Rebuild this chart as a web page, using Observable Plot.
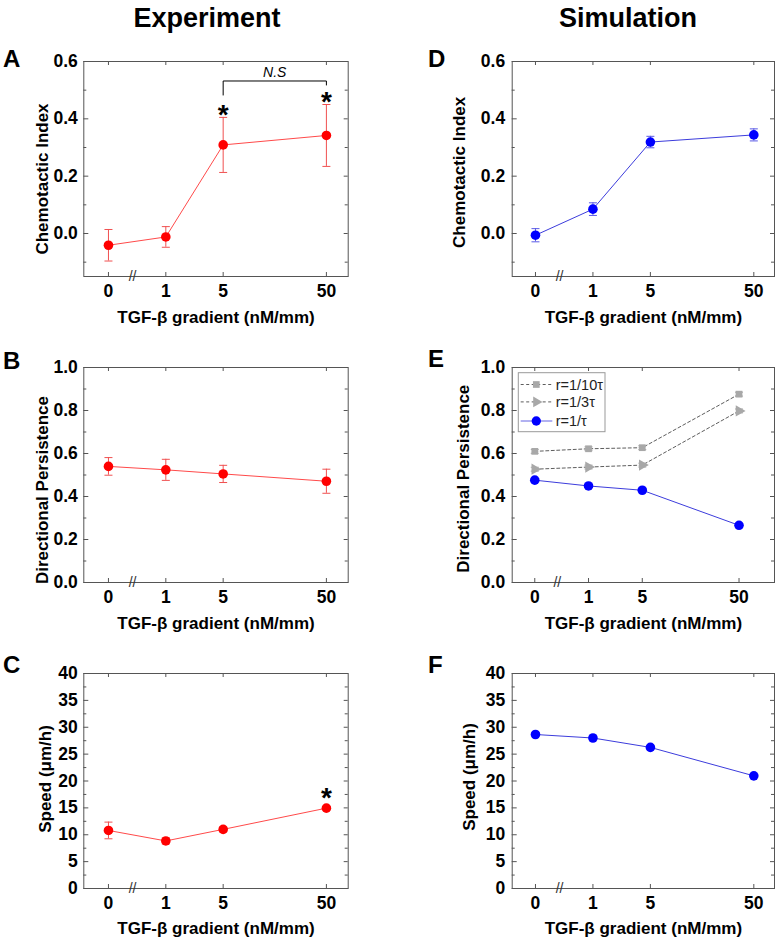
<!DOCTYPE html>
<html><head><meta charset="utf-8">
<script src="https://cdn.jsdelivr.net/npm/d3@7"></script>
<script src="https://cdn.jsdelivr.net/npm/@observablehq/plot@0.6"></script>
<style>
body{margin:0;background:#fff;overflow:hidden;}
#fig{position:relative;width:778px;height:940px;font-family:"Liberation Sans",Arial,sans-serif;overflow:hidden;}
</style></head><body><div id="fig"></div>
<script>
// ---------- data ----------
const gradients = ["0", "1", "5", "50"];
const columnTitles = ["Experiment", "Simulation"];
const panelLetters = ["A", "B", "C", "D", "E", "F"];
const xLabel = "TGF-\u03b2 gradient (nM/mm)";

const expChemoIndex = [-0.041, -0.012, 0.309, 0.342];
const expChemoErr   = [0.055, 0.036, 0.096, 0.108];
const expChemoSig   = ["", "", "*", "*"];
const nsGroups      = ["5", "5", "50", "50"];
const nsLevels      = [0.483, 0.532, 0.532, 0.518];
const nsLabel       = "N.S";

const expPersist    = [0.540, 0.524, 0.505, 0.471];
const expPersistErr = [0.041, 0.049, 0.040, 0.056];

const expSpeed      = [10.8, 8.85, 11.0, 14.95];
const expSpeedErr   = [1.55, 0.55, 0.45, 0.3];
const expSpeedSig   = ["", "", "", "*"];

const simChemoIndex = [-0.006, 0.085, 0.319, 0.344];
const simChemoErr   = [0.023, 0.022, 0.020, 0.021];

const simPersist10  = [0.610, 0.622, 0.627, 0.876];
const simPersist3   = [0.527, 0.537, 0.546, 0.798];
const simPersist1   = [0.476, 0.449, 0.429, 0.266];
const simPersistErr = [0.009, 0.009, 0.009, 0.009];
const legendLabels  = ["r=1/10\u03c4", "r=1/3\u03c4", "r=1/\u03c4"];

const simSpeed      = [28.65, 28.0, 26.25, 20.96];

// ---------- layout ----------
const xSlots = [0, 1, 2, 3.8];          // horizontal slot of each gradient category
const breakSlot = 0.42;
const W = 389, FH = 215, MT = 35, MB = 55;
const rowTop = [60.7, 366.7, 673.3];
const cols = [
  {svgLeft: 0, fl: 83.3, fr: 347.7},
  {svgLeft: 389, fl: 511.7, fr: 774}
];
const RED = "#ff0000", RED_LINE = "#ff4a4a", RED_ERR = "#f05050";
const BLUE = "#0000ff", BLUE_LINE = "#3c3cdc", BLUE_ERR = "#5a5ae6";
const GRAY = "#a8a8a8", AX = "#555";
const FONT = "Liberation Sans, Arial, sans-serif";
const TICK_FS = 17.5, LABEL_FS = 17;

const cap = {draw(ctx, size) { const r = Math.sqrt(size / Math.PI); ctx.moveTo(-r, 0); ctx.lineTo(r, 0); }};

function rows(values, errs, sig) {
  return gradients.map((g, i) => ({
    g, pos: xSlots[i], v: values[i],
    lo: errs ? values[i] - errs[i] : values[i],
    hi: errs ? values[i] + errs[i] : values[i],
    sig: sig ? sig[i] : ""
  }));
}

function series(data, {color, lineColor, errColor, symbol = "circle", r = 4.8, rotate = 0, dash = null, lineWidth = 1, err = true}) {
  const m = [
    Plot.line(data, {x: "pos", y: "v", stroke: lineColor, strokeWidth: lineWidth, strokeDasharray: dash})
  ];
  if (err) {
    m.push(Plot.ruleX(data, {x: "pos", y1: "lo", y2: "hi", stroke: errColor, strokeWidth: 1}));
    m.push(Plot.dot(data, {x: "pos", y: "hi", symbol: cap, r: 4, stroke: errColor, strokeWidth: 1, fill: "none"}));
    m.push(Plot.dot(data, {x: "pos", y: "lo", symbol: cap, r: 4, stroke: errColor, strokeWidth: 1, fill: "none"}));
  }
  m.push(Plot.dot(data, {x: "pos", y: "v", symbol, r, rotate, fill: color, stroke: "none"}));
  return m;
}

const fig = document.getElementById("fig");

function panel(o) {
  const col = cols[o.col];
  const fw = col.fr - col.fl;
  const mL = col.fl - col.svgLeft, mR = col.svgLeft + W - col.fr;
  const tickOpts = {stroke: AX, strokeWidth: 1};
  const svg = Plot.plot({
    width: W, height: MT + FH + MB,
    marginLeft: mL, marginRight: mR, marginTop: MT, marginBottom: MB,
    style: {fontFamily: FONT, background: "transparent", overflow: "visible", color: "#000"},
    x: {type: "linear", domain: o.xDomain},
    y: {type: "linear", domain: o.yDomain},
    marks: [
      Plot.tickY(o.yMajor, {y: d => d, ...tickOpts, insetRight: fw - 5}),
      Plot.tickY(o.yMinor, {y: d => d, ...tickOpts, insetRight: fw - 3}),
      Plot.tickY(o.yMajor, {y: d => d, ...tickOpts, insetLeft: fw - 4}),
      Plot.tickY(o.yMinor, {y: d => d, ...tickOpts, insetLeft: fw - 3}),
      Plot.tickX(xSlots, {x: d => d, ...tickOpts, insetTop: FH - 4}),
      Plot.tickX(xSlots, {x: d => d, ...tickOpts, insetBottom: FH - 4}),
      Plot.frame({stroke: AX, strokeWidth: 1}),
      Plot.axisY({ticks: o.yMajor, tickSize: 0, tickPadding: o.yPad ?? 6, tickFormat: o.yFormat, fontSize: TICK_FS, fontWeight: "bold", fill: "#000", label: null}),
      Plot.axisX({ticks: xSlots, tickSize: 0, tickPadding: 8, tickFormat: d => gradients[xSlots.indexOf(d)], fontSize: TICK_FS, fontWeight: "bold", fill: "#000", label: null}),
      Plot.text(["//"], {x: () => breakSlot, text: d => d, frameAnchor: "bottom", fontSize: 14, fill: "#333", lineAnchor: "middle"}),
      Plot.text([o.yLabel], {text: d => d, frameAnchor: "left", textAnchor: "middle", dx: -o.yLabelOff, dy: o.yLabelDy, rotate: -90, fontSize: LABEL_FS, fontWeight: "bold", fill: "#000"}),
      Plot.text([xLabel], {text: d => d, frameAnchor: "bottom", textAnchor: "middle", dy: o.xLabelDy ?? 46.7, lineAnchor: "bottom", fontSize: LABEL_FS, fontWeight: "bold", fill: "#000"}),
      ...o.marks
    ]
  });
  svg.style.position = "absolute";
  svg.style.left = col.svgLeft + "px";
  svg.style.top = (rowTop[o.row] - MT) + "px";
  fig.appendChild(svg);
}

const f1 = d3.format(".1f");
const ciMajor = [0, 0.2, 0.4, 0.6], ciMinor = [-0.1, 0.1, 0.3, 0.5];
const dpMajor = [0, 0.2, 0.4, 0.6, 0.8, 1.0], dpMinor = [0.1, 0.3, 0.5, 0.7, 0.9];
const spMajor = [0, 5, 10, 15, 20, 25, 30, 35, 40], spMinor = [2.5, 7.5, 12.5, 17.5, 22.5, 27.5, 32.5, 37.5];

const ciExp = rows(expChemoIndex, expChemoErr, expChemoSig);
const bracket = nsGroups.map((g, i) => ({pos: xSlots[gradients.indexOf(g)], y: nsLevels[i]}));

// A
panel({col: 0, row: 0, xDomain: [-0.43, 4.18], yDomain: [-0.15, 0.6], yMajor: ciMajor, yMinor: ciMinor, yFormat: f1,
  yLabel: "Chemotactic Index", yLabelOff: 41.6, yLabelDy: 10,
  marks: [
    ...series(ciExp, {color: RED, lineColor: RED_LINE, errColor: RED_ERR}),
    Plot.text(ciExp.filter(d => d.sig), {x: "pos", y: "hi", text: "sig", dy: -2, fontSize: 28, fontWeight: "bold", fill: "#000"}),
    Plot.line(bracket, {x: "pos", y: "y", stroke: "#000", strokeWidth: 1}),
    Plot.text([nsLabel], {x: () => (bracket[0].pos + bracket[3].pos) / 2, y: () => nsLevels[1], text: d => d, dy: -8, fontSize: 14, fontStyle: "italic", fill: "#000"})
  ]});

// B
panel({col: 0, row: 1, xDomain: [-0.43, 4.18], yDomain: [0, 1], yMajor: dpMajor, yMinor: dpMinor, yFormat: f1,
  yLabel: "Directional Persistence", yLabelOff: 41.6, yLabelDy: 15,
  marks: series(rows(expPersist, expPersistErr), {color: RED, lineColor: RED_LINE, errColor: RED_ERR})});

// C
const spExp = rows(expSpeed, expSpeedErr, expSpeedSig);
panel({col: 0, row: 2, xDomain: [-0.43, 4.18], yDomain: [0, 40], yMajor: spMajor, yMinor: spMinor, yFormat: d3.format("d"),
  yLabel: "Speed (\u03bcm/h)", yLabelOff: 38.3, yLabelDy: -2, xLabelDy: 45,
  marks: [
    ...series(spExp, {color: RED, lineColor: RED_LINE, errColor: RED_ERR}),
    Plot.text(spExp.filter(d => d.sig), {x: "pos", y: "hi", text: "sig", dy: -9, fontSize: 28, fontWeight: "bold", fill: "#000"})
  ]});

// D
panel({col: 1, row: 0, xDomain: [-0.405, 4.16], yDomain: [-0.15, 0.6], yMajor: ciMajor, yMinor: ciMinor, yFormat: f1, yPad: 7,
  yLabel: "Chemotactic Index", yLabelOff: 52.7, yLabelDy: 3.4,
  marks: series(rows(simChemoIndex, simChemoErr), {color: BLUE, lineColor: BLUE_LINE, errColor: BLUE_ERR})});

// E
panel({col: 1, row: 1, xDomain: [-0.42, 4.46], yDomain: [0, 1], yMajor: dpMajor, yMinor: dpMinor, yFormat: f1, yPad: 7,
  yLabel: "Directional Persistence", yLabelOff: 48.7, yLabelDy: 3.7,
  marks: [
    ...series(rows(simPersist10, simPersistErr), {color: GRAY, lineColor: "#333", errColor: GRAY, symbol: "square", r: 3.8, dash: "3,2.5", lineWidth: 0.8}),
    ...series(rows(simPersist3, simPersistErr), {color: GRAY, lineColor: "#333", errColor: GRAY, symbol: "triangle", r: 4.2, rotate: 90, dash: "3,2.5", lineWidth: 0.8}),
    ...series(rows(simPersist1), {color: BLUE, lineColor: BLUE_LINE, errColor: BLUE_ERR, err: false})
  ]});

// F
panel({col: 1, row: 2, xDomain: [-0.405, 4.16], yDomain: [0, 40], yMajor: spMajor, yMinor: spMinor, yFormat: d3.format("d"), yPad: 7,
  yLabel: "Speed (\u03bcm/h)", yLabelOff: 42.7, yLabelDy: -4, xLabelDy: 45,
  marks: series(rows(simSpeed), {color: BLUE, lineColor: BLUE_LINE, errColor: BLUE_ERR, err: false})});

// ---------- overlay: titles, panel letters, legend ----------
const ov = d3.select(fig).append("svg")
  .attr("width", 778).attr("height", 940)
  .style("position", "absolute").style("left", "0px").style("top", "0px")
  .style("pointer-events", "none")
  .attr("font-family", FONT);

const titleX = [207, 628];
columnTitles.forEach((t, i) => ov.append("text").attr("x", titleX[i]).attr("y", 27)
  .attr("text-anchor", "middle").attr("font-size", 27).attr("font-weight", "bold").text(t));

const letterPos = [[3, 66.7], [3, 369], [3, 673], [428, 67], [428, 366.7], [428, 673]];
panelLetters.forEach((l, i) => ov.append("text").attr("x", letterPos[i][0]).attr("y", letterPos[i][1])
  .attr("font-size", 24).attr("font-weight", "bold").text(l));

// legend for E
const lg = ov.append("g").attr("transform", "translate(518.3,372.7)");
lg.append("rect").attr("x", 0).attr("y", 0).attr("width", 86.7).attr("height", 59).attr("fill", "#fff").attr("stroke", "#999");
const rowY = [11.8, 29.2, 48.3];
const sym = [
  {line: "#333", dash: "3,2.5", type: d3.symbolSquare, size: 45, fill: GRAY, rot: 0},
  {line: "#333", dash: "3,2.5", type: d3.symbolTriangle, size: 50, fill: GRAY, rot: 90},
  {line: BLUE_LINE, dash: null, type: d3.symbolCircle, size: 68, fill: BLUE, rot: 0}
];
legendLabels.forEach((t, i) => {
  const g = lg.append("g").attr("transform", `translate(0,${rowY[i]})`);
  g.append("line").attr("x1", 2.4).attr("x2", 34).attr("y1", 0).attr("y2", 0)
    .attr("stroke", sym[i].line).attr("stroke-width", 0.8).attr("stroke-dasharray", sym[i].dash);
  g.append("path").attr("d", d3.symbol(sym[i].type, sym[i].size)())
    .attr("transform", `translate(18,0) rotate(${sym[i].rot})`).attr("fill", sym[i].fill);
  g.append("text").attr("x", 37.4).attr("y", 5).attr("font-size", 14.5).attr("fill", "#222").text(t);
});
</script>
</body></html>
